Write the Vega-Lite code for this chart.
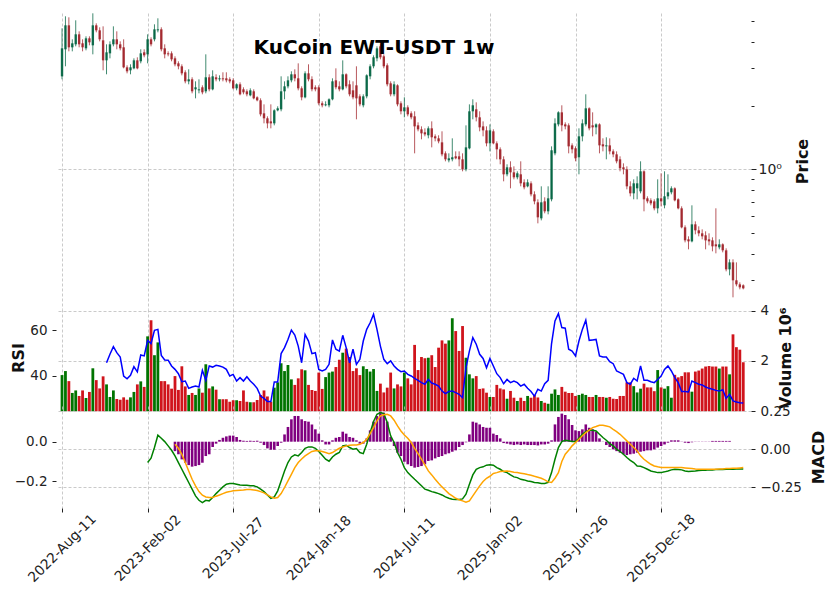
{
"$schema": "https://vega.github.io/schema/vega-lite/v6.json",
"background": "white",
"padding": {"left": 10, "top": 12, "right": 2, "bottom": 4},
"config": {
  "view": {"stroke": null},
  "font": "DejaVu Sans",
  "axis": {"domain": false, "labelFont": "DejaVu Sans", "labelFontSize": 13.5, "labelColor": "#222222", "tickColor": "#222222", "titleFont": "DejaVu Sans", "titleFontSize": 16, "titleFontWeight": "bold", "titleColor": "#111111", "gridColor": "#bdbdbd", "gridDash": [3, 2], "gridWidth": 0.8, "labelOverlap": false}
},
"data": {"values": [
{"i":0,"o":2.751,"h":4.638,"l":2.663,"c":3.731,"v":1440000},
{"i":1,"o":3.691,"h":5.286,"l":3.068,"c":4.792,"v":1600000},
{"i":2,"o":4.792,"h":5.228,"l":3.611,"c":3.772,"v":1200000},
{"i":3,"o":3.772,"h":4.115,"l":3.611,"c":3.94,"v":730000},
{"i":4,"o":3.897,"h":5.06,"l":3.813,"c":4.345,"v":830000},
{"i":5,"o":4.345,"h":4.489,"l":3.772,"c":3.897,"v":610000},
{"i":6,"o":3.94,"h":4.115,"l":3.611,"c":3.772,"v":830000},
{"i":7,"o":3.731,"h":4.252,"l":3.65,"c":4.16,"v":530000},
{"i":8,"o":4.16,"h":4.252,"l":3.855,"c":3.983,"v":770000},
{"i":9,"o":3.855,"h":5.461,"l":3.495,"c":4.792,"v":1710000},
{"i":10,"o":4.792,"h":4.897,"l":4.441,"c":4.538,"v":1240000},
{"i":11,"o":4.538,"h":4.689,"l":4.026,"c":4.115,"v":910000},
{"i":12,"o":4.07,"h":4.74,"l":2.937,"c":3.274,"v":1390000},
{"i":13,"o":3.274,"h":3.897,"l":2.812,"c":3.572,"v":1070000,"rsi":45.8},
{"i":14,"o":3.533,"h":4.026,"l":3.346,"c":3.897,"v":570000,"rsi":49.5},
{"i":15,"o":3.897,"h":4.74,"l":3.813,"c":4.115,"v":830000,"rsi":52.8},
{"i":16,"o":4.115,"h":4.489,"l":3.691,"c":3.897,"v":490000,"rsi":50.2},
{"i":17,"o":3.897,"h":4.026,"l":3.65,"c":3.731,"v":460000,"rsi":48.3},
{"i":18,"o":3.772,"h":4.115,"l":3.001,"c":3.034,"v":555000,"rsi":40.0},
{"i":19,"o":3.034,"h":3.101,"l":2.842,"c":2.905,"v":460000,"rsi":38.8},
{"i":20,"o":2.937,"h":3.135,"l":2.812,"c":3.034,"v":555000,"rsi":40.3},
{"i":21,"o":3.001,"h":3.346,"l":2.969,"c":3.274,"v":770000,"rsi":44.1},
{"i":22,"o":3.274,"h":3.383,"l":2.969,"c":3.001,"v":1070000,"rsi":41.8},
{"i":23,"o":3.239,"h":3.691,"l":3.169,"c":3.533,"v":1190000,"rsi":49.2},
{"i":24,"o":3.572,"h":3.691,"l":3.383,"c":3.457,"v":970000,"rsi":48.8},
{"i":25,"o":3.495,"h":4.345,"l":3.169,"c":4.115,"v":2980000,"rsi":55.6,"macd":-0.088},
{"i":26,"o":4.115,"h":4.206,"l":3.813,"c":3.897,"v":3620000,"rsi":54.2,"macd":-0.059},
{"i":27,"o":4.115,"h":4.845,"l":4.026,"c":4.588,"v":2230000,"rsi":60.0,"macd":0.011},
{"i":28,"o":4.538,"h":5.172,"l":4.441,"c":4.588,"v":2740000,"rsi":60.4,"macd":0.092},
{"i":29,"o":4.588,"h":4.689,"l":3.611,"c":3.691,"v":1200000,"rsi":49.0,"macd":0.072},
{"i":30,"o":3.731,"h":3.897,"l":3.346,"c":3.495,"v":1200000,"rsi":47.0,"macd":0.05},
{"i":31,"o":3.533,"h":3.611,"l":3.42,"c":3.495,"v":1070000,"rsi":46.9,"macd":0.022},
{"i":32,"o":3.533,"h":3.611,"l":3.239,"c":3.31,"v":900000,"rsi":44.4,"macd":-0.007},
{"i":33,"o":3.346,"h":3.42,"l":3.068,"c":3.135,"v":1400000,"rsi":42.9,"macd":-0.044,"sig":0.033,"hist":-0.048},
{"i":34,"o":3.169,"h":3.239,"l":2.969,"c":3.068,"v":850000,"rsi":41.0,"macd":-0.088,"sig":0.006,"hist":-0.064},
{"i":35,"o":3.068,"h":3.135,"l":2.781,"c":2.842,"v":1790000,"rsi":37.5,"macd":-0.132,"sig":-0.033,"hist":-0.09},
{"i":36,"o":2.874,"h":2.937,"l":2.549,"c":2.605,"v":990000,"rsi":37.8,"macd":-0.176,"sig":-0.088,"hist":-0.107},
{"i":37,"o":2.605,"h":2.969,"l":2.522,"c":2.663,"v":650000,"rsi":34.6,"macd":-0.219,"sig":-0.143,"hist":-0.119},
{"i":38,"o":2.663,"h":2.722,"l":2.286,"c":2.337,"v":730000,"rsi":35.2,"macd":-0.263,"sig":-0.198,"hist":-0.127},
{"i":39,"o":2.388,"h":2.605,"l":2.165,"c":2.441,"v":650000,"rsi":35.6,"macd":-0.307,"sig":-0.241,"hist":-0.124},
{"i":40,"o":2.362,"h":2.663,"l":2.286,"c":2.388,"v":910000,"rsi":35.2,"macd":-0.336,"sig":-0.279,"hist":-0.119},
{"i":41,"o":2.441,"h":2.494,"l":2.262,"c":2.311,"v":740000,"rsi":42.5,"macd":-0.351,"sig":-0.303,"hist":-0.107},
{"i":42,"o":2.337,"h":3.495,"l":2.286,"c":2.722,"v":1870000,"rsi":38.1,"macd":-0.336,"sig":-0.314,"hist":-0.073},
{"i":43,"o":2.722,"h":2.812,"l":2.337,"c":2.388,"v":910000,"rsi":44.4,"macd":-0.34,"sig":-0.318,"hist":-0.064},
{"i":44,"o":2.388,"h":2.937,"l":2.362,"c":2.751,"v":990000,"rsi":43.9,"macd":-0.318,"sig":-0.318,"hist":-0.027},
{"i":45,"o":2.722,"h":2.812,"l":2.605,"c":2.663,"v":860000,"rsi":44.7,"macd":-0.292,"sig":-0.309,"hist":-0.01},
{"i":46,"o":2.663,"h":2.781,"l":2.605,"c":2.692,"v":480000,"rsi":44.4,"macd":-0.27,"sig":-0.301,"hist":0.009},
{"i":47,"o":2.692,"h":2.874,"l":2.605,"c":2.663,"v":480000,"rsi":43.9,"macd":-0.248,"sig":-0.292,"hist":0.02},
{"i":48,"o":2.692,"h":2.874,"l":2.577,"c":2.634,"v":480000,"rsi":42.9,"macd":-0.23,"sig":-0.283,"hist":0.027},
{"i":49,"o":2.663,"h":2.722,"l":2.549,"c":2.605,"v":380000,"rsi":40.0,"macd":-0.226,"sig":-0.279,"hist":0.031},
{"i":50,"o":2.634,"h":2.692,"l":2.388,"c":2.414,"v":440000,"rsi":40.7,"macd":-0.226,"sig":-0.274,"hist":0.031},
{"i":51,"o":2.414,"h":2.549,"l":2.362,"c":2.522,"v":440000,"rsi":37.8,"macd":-0.23,"sig":-0.272,"hist":0.024},
{"i":52,"o":2.522,"h":2.577,"l":2.237,"c":2.262,"v":410000,"rsi":39.3,"macd":-0.235,"sig":-0.27,"hist":0.009},
{"i":53,"o":2.388,"h":2.441,"l":2.262,"c":2.311,"v":830000,"rsi":37.8,"macd":-0.237,"sig":-0.268,"hist":0.005},
{"i":54,"o":2.337,"h":2.388,"l":2.213,"c":2.262,"v":380000,"rsi":39.7,"macd":-0.237,"sig":-0.265,"hist":0.004},
{"i":55,"o":2.237,"h":2.414,"l":2.213,"c":2.362,"v":360000,"rsi":37.8,"macd":-0.241,"sig":-0.265,"hist":0.005},
{"i":56,"o":2.337,"h":2.388,"l":2.142,"c":2.165,"v":360000,"rsi":36.4,"macd":-0.241,"sig":-0.268,"hist":0.004},
{"i":57,"o":2.189,"h":2.213,"l":2.096,"c":2.119,"v":450000,"rsi":34.6,"macd":-0.248,"sig":-0.272,"hist":0.005},
{"i":58,"o":2.119,"h":2.165,"l":1.78,"c":1.819,"v":650000,"rsi":31.2,"macd":-0.263,"sig":-0.279,"hist":-0.005},
{"i":59,"o":1.839,"h":2.028,"l":1.649,"c":1.742,"v":830000,"rsi":30.2,"macd":-0.279,"sig":-0.287,"hist":-0.017},
{"i":60,"o":1.742,"h":1.78,"l":1.562,"c":1.649,"v":590000,"rsi":28.8,"macd":-0.301,"sig":-0.301,"hist":-0.034},
{"i":61,"o":1.685,"h":2.028,"l":1.562,"c":1.649,"v":380000,"rsi":28.8,"macd":-0.323,"sig":-0.314,"hist":-0.041},
{"i":62,"o":1.649,"h":1.921,"l":1.614,"c":1.9,"v":940000,"rsi":37.4,"macd":-0.314,"sig":-0.323,"hist":-0.041},
{"i":63,"o":1.9,"h":1.985,"l":1.88,"c":1.942,"v":1150000,"rsi":37.4,"macd":-0.274,"sig":-0.318,"hist":-0.022},
{"i":64,"o":1.921,"h":2.751,"l":1.88,"c":2.337,"v":1910000,"rsi":49.8,"macd":-0.209,"sig":-0.292,"hist":-0.005},
{"i":65,"o":2.337,"h":2.605,"l":2.142,"c":2.467,"v":1600000,"rsi":52.4,"macd":-0.143,"sig":-0.252,"hist":0.037},
{"i":66,"o":2.467,"h":2.751,"l":2.414,"c":2.634,"v":1840000,"rsi":56.0,"macd":-0.088,"sig":-0.209,"hist":0.075},
{"i":67,"o":2.634,"h":2.905,"l":2.577,"c":2.812,"v":1270000,"rsi":60.1,"macd":-0.051,"sig":-0.165,"hist":0.114},
{"i":68,"o":2.812,"h":2.969,"l":2.605,"c":2.692,"v":1050000,"rsi":57.9,"macd":-0.037,"sig":-0.121,"hist":0.131},
{"i":69,"o":2.692,"h":3.169,"l":2.362,"c":2.414,"v":1310000,"rsi":53.1,"macd":-0.044,"sig":-0.088,"hist":0.131},
{"i":70,"o":2.414,"h":2.467,"l":2.119,"c":2.189,"v":1670000,"rsi":45.8,"macd":-0.022,"sig":-0.064,"hist":0.114},
{"i":71,"o":2.189,"h":2.905,"l":2.165,"c":2.842,"v":1630000,"rsi":58.2,"macd":0.006,"sig":-0.044,"hist":0.105},
{"i":72,"o":2.842,"h":3.135,"l":2.605,"c":2.663,"v":1050000,"rsi":55.3,"macd":0.015,"sig":-0.029,"hist":0.102},
{"i":73,"o":2.663,"h":2.751,"l":2.337,"c":2.388,"v":850000,"rsi":49.8,"macd":0.015,"sig":-0.015,"hist":0.088},
{"i":74,"o":2.441,"h":2.494,"l":2.337,"c":2.388,"v":810000,"rsi":50.2,"macd":0.006,"sig":-0.011,"hist":0.063},
{"i":75,"o":2.441,"h":2.494,"l":2.007,"c":2.051,"v":1540000,"rsi":42.9,"macd":-0.015,"sig":-0.011,"hist":0.041},
{"i":76,"o":2.051,"h":2.096,"l":1.963,"c":2.007,"v":890000,"rsi":42.2,"macd":-0.04,"sig":-0.015,"hist":0.007},
{"i":77,"o":2.007,"h":2.096,"l":1.985,"c":2.028,"v":1360000,"rsi":42.9,"macd":-0.066,"sig":-0.022,"hist":-0.014},
{"i":78,"o":2.007,"h":2.165,"l":1.963,"c":2.142,"v":1540000,"rsi":45.1,"macd":-0.079,"sig":-0.029,"hist":-0.014},
{"i":79,"o":2.142,"h":2.692,"l":2.119,"c":2.605,"v":1580000,"rsi":55.8,"macd":-0.051,"sig":-0.022,"hist":0.007},
{"i":80,"o":2.634,"h":3.001,"l":2.388,"c":2.441,"v":1760000,"rsi":51.7,"macd":-0.033,"sig":-0.007,"hist":0.02},
{"i":81,"o":2.467,"h":2.605,"l":2.337,"c":2.388,"v":2050000,"rsi":50.9,"macd":-0.022,"sig":0.006,"hist":0.024},
{"i":82,"o":2.388,"h":3.274,"l":2.362,"c":2.812,"v":2330000,"rsi":57.8,"macd":0.022,"sig":0.015,"hist":0.051},
{"i":83,"o":2.812,"h":2.842,"l":2.414,"c":2.467,"v":2490000,"rsi":52.4,"macd":0.026,"sig":0.022,"hist":0.041},
{"i":84,"o":2.522,"h":2.634,"l":2.213,"c":2.262,"v":2160000,"rsi":45.8,"macd":0.011,"sig":0.026,"hist":0.024},
{"i":85,"o":2.362,"h":2.605,"l":2.142,"c":2.189,"v":1600000,"rsi":51.7,"macd":0.0,"sig":0.028,"hist":0.02},
{"i":86,"o":2.494,"h":3.068,"l":1.723,"c":2.165,"v":1710000,"rsi":45.1,"macd":0.004,"sig":0.028,"hist":0.007},
{"i":87,"o":2.213,"h":2.262,"l":1.985,"c":2.028,"v":1440000,"rsi":47.3,"macd":-0.022,"sig":0.033,"hist":-0.01},
{"i":88,"o":2.007,"h":2.262,"l":1.963,"c":2.213,"v":1790000,"rsi":55.3,"macd":-0.029,"sig":0.044,"hist":-0.01},
{"i":89,"o":2.213,"h":2.812,"l":2.165,"c":2.781,"v":1680000,"rsi":60.4,"macd":0.033,"sig":0.066,"hist":0.017},
{"i":90,"o":2.751,"h":3.135,"l":2.663,"c":3.068,"v":1580000,"rsi":63.3,"macd":0.109,"sig":0.103,"hist":0.058},
{"i":91,"o":3.068,"h":3.457,"l":3.001,"c":3.383,"v":1680000,"rsi":67.0,"macd":0.182,"sig":0.142,"hist":0.102},
{"i":92,"o":3.346,"h":3.813,"l":3.239,"c":3.731,"v":810000,"rsi":60.4,"macd":0.23,"sig":0.186,"hist":0.131},
{"i":93,"o":3.813,"h":3.897,"l":3.31,"c":3.383,"v":1100000,"rsi":53.1,"macd":0.241,"sig":0.219,"hist":0.153},
{"i":94,"o":3.42,"h":3.495,"l":3.001,"c":3.068,"v":750000,"rsi":47.3,"macd":0.234,"sig":0.226,"hist":0.148},
{"i":95,"o":3.101,"h":3.169,"l":2.467,"c":2.522,"v":940000,"rsi":45.4,"macd":0.175,"sig":0.23,"hist":0.102},
{"i":96,"o":2.549,"h":2.605,"l":2.213,"c":2.262,"v":1540000,"rsi":46.6,"macd":0.088,"sig":0.219,"hist":0.024},
{"i":97,"o":2.262,"h":2.605,"l":2.213,"c":2.522,"v":910000,"rsi":44.4,"macd":0.044,"sig":0.191,"hist":-0.022},
{"i":98,"o":2.494,"h":2.522,"l":1.985,"c":2.028,"v":1070000,"rsi":42.9,"macd":-0.022,"sig":0.153,"hist":-0.056},
{"i":99,"o":2.051,"h":2.096,"l":1.819,"c":1.88,"v":990000,"rsi":41.9,"macd":-0.066,"sig":0.12,"hist":-0.073},
{"i":100,"o":1.88,"h":2.189,"l":1.761,"c":1.963,"v":1540000,"rsi":42.2,"macd":-0.121,"sig":0.094,"hist":-0.102},
{"i":101,"o":1.963,"h":2.007,"l":1.78,"c":1.819,"v":1310000,"rsi":40.7,"macd":-0.154,"sig":0.072,"hist":-0.115},
{"i":102,"o":1.839,"h":1.88,"l":1.723,"c":1.761,"v":1070000,"rsi":40.0,"macd":-0.176,"sig":0.044,"hist":-0.124},
{"i":103,"o":1.78,"h":1.88,"l":1.19,"c":1.596,"v":2640000,"rsi":39.0,"macd":-0.198,"sig":0.006,"hist":-0.132},
{"i":104,"o":1.614,"h":1.667,"l":1.512,"c":1.545,"v":1640000,"rsi":38.1,"macd":-0.219,"sig":-0.029,"hist":-0.129},
{"i":105,"o":1.545,"h":1.596,"l":1.386,"c":1.479,"v":2160000,"rsi":37.1,"macd":-0.241,"sig":-0.066,"hist":-0.124},
{"i":106,"o":1.496,"h":1.562,"l":1.432,"c":1.463,"v":2110000,"rsi":36.4,"macd":-0.263,"sig":-0.103,"hist":-0.115},
{"i":107,"o":1.448,"h":1.596,"l":1.401,"c":1.562,"v":2130000,"rsi":38.5,"macd":-0.27,"sig":-0.143,"hist":-0.098},
{"i":108,"o":1.562,"h":1.685,"l":1.27,"c":1.417,"v":2230000,"rsi":36.9,"macd":-0.279,"sig":-0.169,"hist":-0.095},
{"i":109,"o":1.432,"h":1.463,"l":1.356,"c":1.401,"v":1760000,"rsi":36.4,"macd":-0.285,"sig":-0.198,"hist":-0.085},
{"i":110,"o":1.401,"h":1.448,"l":1.327,"c":1.356,"v":2530000,"rsi":35.6,"macd":-0.292,"sig":-0.224,"hist":-0.078},
{"i":111,"o":1.341,"h":1.512,"l":1.152,"c":1.177,"v":2820000,"rsi":33.4,"macd":-0.301,"sig":-0.248,"hist":-0.073},
{"i":112,"o":1.19,"h":1.216,"l":1.091,"c":1.115,"v":2690000,"rsi":32.3,"macd":-0.314,"sig":-0.27,"hist":-0.064},
{"i":113,"o":1.103,"h":1.19,"l":1.079,"c":1.127,"v":2820000,"rsi":33.2,"macd":-0.323,"sig":-0.292,"hist":-0.059},
{"i":114,"o":1.115,"h":1.401,"l":1.091,"c":1.14,"v":3700000,"rsi":33.4,"macd":-0.329,"sig":-0.307,"hist":-0.051},
{"i":115,"o":1.152,"h":1.216,"l":1.115,"c":1.127,"v":3190000,"rsi":32.7,"macd":-0.331,"sig":-0.323,"hist":-0.044},
{"i":116,"o":1.152,"h":1.216,"l":1.033,"c":1.115,"v":2400000,"rsi":32.0,"macd":-0.331,"sig":-0.333,"hist":-0.027},
{"i":117,"o":1.115,"h":1.19,"l":0.9784,"c":1.0,"v":3390000,"rsi":30.5,"macd":-0.327,"sig":-0.34,"hist":-0.017},
{"i":118,"o":1.0,"h":1.614,"l":0.9784,"c":1.27,"v":2130000,"rsi":43.6,"macd":-0.296,"sig":-0.349,"hist":-0.003},
{"i":119,"o":1.257,"h":2.028,"l":1.243,"c":1.88,"v":1470000,"rsi":50.9,"macd":-0.23,"sig":-0.34,"hist":0.037},
{"i":120,"o":1.88,"h":2.142,"l":1.723,"c":2.007,"v":1310000,"rsi":56.8,"macd":-0.169,"sig":-0.307,"hist":0.102},
{"i":121,"o":1.921,"h":2.073,"l":1.685,"c":1.761,"v":1400000,"rsi":53.9,"macd":-0.132,"sig":-0.274,"hist":0.097},
{"i":122,"o":1.761,"h":1.88,"l":1.512,"c":1.579,"v":890000,"rsi":49.5,"macd":-0.121,"sig":-0.241,"hist":0.088},
{"i":123,"o":1.596,"h":1.685,"l":1.432,"c":1.528,"v":910000,"rsi":47.7,"macd":-0.116,"sig":-0.213,"hist":0.075},
{"i":124,"o":1.528,"h":1.596,"l":1.284,"c":1.327,"v":740000,"rsi":43.6,"macd":-0.105,"sig":-0.191,"hist":0.071},
{"i":125,"o":1.327,"h":1.631,"l":1.216,"c":1.528,"v":570000,"rsi":47.7,"macd":-0.103,"sig":-0.178,"hist":0.071},
{"i":126,"o":1.512,"h":1.545,"l":1.313,"c":1.327,"v":570000,"rsi":44.4,"macd":-0.105,"sig":-0.16,"hist":0.041},
{"i":127,"o":1.327,"h":1.356,"l":1.115,"c":1.243,"v":1050000,"rsi":41.0,"macd":-0.121,"sig":-0.154,"hist":0.034},
{"i":128,"o":1.243,"h":1.27,"l":1.056,"c":1.115,"v":910000,"rsi":39.3,"macd":-0.132,"sig":-0.147,"hist":0.017},
{"i":129,"o":1.115,"h":1.152,"l":0.8775,"c":0.947,"v":870000,"rsi":36.6,"macd":-0.147,"sig":-0.145,"hist":-0.007},
{"i":130,"o":0.947,"h":1.056,"l":0.9267,"c":1.022,"v":500000,"rsi":38.5,"macd":-0.154,"sig":-0.143,"hist":-0.01},
{"i":131,"o":1.022,"h":1.091,"l":0.8132,"c":0.9678,"v":810000,"rsi":37.1,"macd":-0.169,"sig":-0.147,"hist":-0.014},
{"i":132,"o":0.9678,"h":1.033,"l":0.8969,"c":0.9166,"v":540000,"rsi":37.8,"macd":-0.182,"sig":-0.151,"hist":-0.017},
{"i":133,"o":0.9166,"h":0.9784,"l":0.8969,"c":0.9574,"v":410000,"rsi":37.1,"macd":-0.187,"sig":-0.154,"hist":-0.014},
{"i":134,"o":0.947,"h":1.091,"l":0.8311,"c":0.8586,"v":540000,"rsi":35.6,"macd":-0.198,"sig":-0.158,"hist":-0.017},
{"i":135,"o":0.868,"h":0.8969,"l":0.8044,"c":0.8221,"v":410000,"rsi":36.4,"macd":-0.202,"sig":-0.162,"hist":-0.014},
{"i":136,"o":0.8311,"h":0.8969,"l":0.8221,"c":0.868,"v":610000,"rsi":34.6,"macd":-0.209,"sig":-0.167,"hist":-0.017},
{"i":137,"o":0.8586,"h":0.8775,"l":0.7453,"c":0.7617,"v":540000,"rsi":33.2,"macd":-0.213,"sig":-0.171,"hist":-0.017},
{"i":138,"o":0.7617,"h":0.787,"l":0.6832,"c":0.7058,"v":650000,"rsi":31.2,"macd":-0.219,"sig":-0.178,"hist":-0.017},
{"i":139,"o":0.6982,"h":0.7214,"l":0.5555,"c":0.5931,"v":550000,"rsi":34.2,"macd":-0.221,"sig":-0.184,"hist":-0.019},
{"i":140,"o":0.5866,"h":0.8311,"l":0.5739,"c":0.6982,"v":410000,"rsi":33.4,"macd":-0.226,"sig":-0.191,"hist":-0.014},
{"i":141,"o":0.7058,"h":0.7373,"l":0.6194,"c":0.6331,"v":340000,"rsi":36.6,"macd":-0.226,"sig":-0.202,"hist":-0.014},
{"i":142,"o":0.6331,"h":0.8311,"l":0.6127,"c":0.7293,"v":300000,"rsi":38.1,"macd":-0.219,"sig":-0.215,"hist":-0.01},
{"i":143,"o":0.7214,"h":1.284,"l":0.7058,"c":1.23,"v":700000,"rsi":54.2,"macd":-0.154,"sig":-0.219,"hist":0.007},
{"i":144,"o":1.19,"h":1.742,"l":1.165,"c":1.649,"v":870000,"rsi":64.1,"macd":-0.066,"sig":-0.191,"hist":0.088},
{"i":145,"o":1.631,"h":1.88,"l":1.596,"c":1.859,"v":650000,"rsi":67.3,"macd":0.011,"sig":-0.154,"hist":0.126},
{"i":146,"o":1.859,"h":2.007,"l":1.512,"c":1.614,"v":970000,"rsi":61.2,"macd":0.05,"sig":-0.081,"hist":0.143},
{"i":147,"o":1.631,"h":1.667,"l":1.545,"c":1.596,"v":780000,"rsi":60.9,"macd":0.059,"sig":-0.033,"hist":0.136},
{"i":148,"o":1.614,"h":1.649,"l":1.19,"c":1.284,"v":730000,"rsi":51.7,"macd":0.055,"sig":-0.007,"hist":0.114},
{"i":149,"o":1.298,"h":1.327,"l":1.19,"c":1.243,"v":730000,"rsi":50.9,"macd":0.05,"sig":0.022,"hist":0.085},
{"i":150,"o":1.257,"h":1.284,"l":1.091,"c":1.127,"v":610000,"rsi":48.8,"macd":0.05,"sig":0.044,"hist":0.058},
{"i":151,"o":1.14,"h":1.562,"l":0.947,"c":1.432,"v":650000,"rsi":55.3,"macd":0.072,"sig":0.066,"hist":0.054},
{"i":152,"o":1.432,"h":1.723,"l":1.356,"c":1.649,"v":700000,"rsi":60.4,"macd":0.098,"sig":0.088,"hist":0.063},
{"i":153,"o":1.631,"h":2.262,"l":1.596,"c":1.942,"v":650000,"rsi":64.4,"macd":0.116,"sig":0.109,"hist":0.088},
{"i":154,"o":1.942,"h":1.963,"l":1.528,"c":1.562,"v":570000,"rsi":55.6,"macd":0.125,"sig":0.125,"hist":0.071},
{"i":155,"o":1.614,"h":1.859,"l":1.432,"c":1.579,"v":570000,"rsi":55.8,"macd":0.125,"sig":0.142,"hist":0.063},
{"i":156,"o":1.579,"h":1.649,"l":1.463,"c":1.631,"v":650000,"rsi":56.0,"macd":0.12,"sig":0.149,"hist":0.051},
{"i":157,"o":1.631,"h":1.649,"l":1.19,"c":1.298,"v":570000,"rsi":48.8,"macd":0.098,"sig":0.158,"hist":0.017},
{"i":158,"o":1.313,"h":1.401,"l":1.216,"c":1.284,"v":570000,"rsi":48.3,"macd":0.077,"sig":0.158,"hist":-0.001},
{"i":159,"o":1.284,"h":1.417,"l":1.115,"c":1.298,"v":540000,"rsi":48.3,"macd":0.059,"sig":0.153,"hist":-0.017},
{"i":160,"o":1.298,"h":1.401,"l":1.177,"c":1.216,"v":570000,"rsi":46.3,"macd":0.037,"sig":0.147,"hist":-0.027},
{"i":161,"o":1.216,"h":1.243,"l":1.14,"c":1.177,"v":500000,"rsi":45.4,"macd":0.022,"sig":0.131,"hist":-0.039},
{"i":162,"o":1.177,"h":1.216,"l":1.067,"c":1.091,"v":490000,"rsi":42.2,"macd":0.0,"sig":0.116,"hist":-0.048},
{"i":163,"o":1.115,"h":1.152,"l":0.9784,"c":1.011,"v":610000,"rsi":41.5,"macd":-0.015,"sig":0.098,"hist":-0.056},
{"i":164,"o":1.022,"h":1.067,"l":0.947,"c":1.0,"v":610000,"rsi":40.7,"macd":-0.033,"sig":0.077,"hist":-0.064},
{"i":165,"o":1.0,"h":1.033,"l":0.8044,"c":0.8311,"v":1150000,"rsi":37.1,"macd":-0.055,"sig":0.055,"hist":-0.068},
{"i":166,"o":0.8311,"h":0.8775,"l":0.7453,"c":0.77,"v":1150000,"rsi":36.4,"macd":-0.073,"sig":0.033,"hist":-0.064},
{"i":167,"o":0.77,"h":0.8969,"l":0.7214,"c":0.8586,"v":1000000,"rsi":39.0,"macd":-0.088,"sig":0.011,"hist":-0.061},
{"i":168,"o":0.8132,"h":0.9267,"l":0.7214,"c":0.8586,"v":750000,"rsi":37.8,"macd":-0.11,"sig":-0.011,"hist":-0.056},
{"i":169,"o":0.787,"h":1.091,"l":0.77,"c":0.9784,"v":900000,"rsi":44.4,"macd":-0.112,"sig":-0.044,"hist":-0.051},
{"i":170,"o":0.9784,"h":0.9891,"l":0.6331,"c":0.7214,"v":1100000,"rsi":38.1,"macd":-0.121,"sig":-0.066,"hist":-0.048},
{"i":171,"o":0.7293,"h":0.7453,"l":0.6906,"c":0.7058,"v":950000,"rsi":38.1,"macd":-0.132,"sig":-0.083,"hist":-0.044},
{"i":172,"o":0.7135,"h":0.7293,"l":0.6758,"c":0.6906,"v":950000,"rsi":37.5,"macd":-0.143,"sig":-0.099,"hist":-0.044},
{"i":173,"o":0.7058,"h":0.7214,"l":0.64,"c":0.6541,"v":800000,"rsi":37.1,"macd":-0.149,"sig":-0.11,"hist":-0.039},
{"i":174,"o":0.6541,"h":0.8969,"l":0.6194,"c":0.7293,"v":1640000,"rsi":38.5,"macd":-0.154,"sig":-0.116,"hist":-0.03},
{"i":175,"o":0.7293,"h":0.9574,"l":0.6685,"c":0.7058,"v":950000,"rsi":40.0,"macd":-0.154,"sig":-0.121,"hist":-0.022},
{"i":176,"o":0.6758,"h":0.9784,"l":0.6541,"c":0.7453,"v":900000,"rsi":42.9,"macd":-0.149,"sig":-0.121,"hist":-0.014},
{"i":177,"o":0.7453,"h":0.947,"l":0.7214,"c":0.7785,"v":1000000,"rsi":44.4,"macd":-0.143,"sig":-0.121,"hist":-0.005},
{"i":178,"o":0.7785,"h":0.8311,"l":0.7617,"c":0.8132,"v":540000,"rsi":42.2,"macd":-0.136,"sig":-0.121,"hist":0.007},
{"i":179,"o":0.8132,"h":0.8221,"l":0.7058,"c":0.7135,"v":1450000,"rsi":39.3,"macd":-0.132,"sig":-0.121,"hist":0.007},
{"i":180,"o":0.7214,"h":0.7293,"l":0.647,"c":0.6541,"v":1350000,"rsi":37.1,"macd":-0.134,"sig":-0.121,"hist":0.007},
{"i":181,"o":0.6541,"h":0.6685,"l":0.5261,"c":0.5319,"v":1400000,"rsi":33.2,"macd":-0.136,"sig":-0.121,"hist":-0.001},
{"i":182,"o":0.5319,"h":0.5436,"l":0.4517,"c":0.4616,"v":1550000,"rsi":33.2,"macd":-0.143,"sig":-0.123,"hist":-0.005},
{"i":183,"o":0.4668,"h":0.4823,"l":0.4186,"c":0.4567,"v":1550000,"rsi":33.0,"macd":-0.147,"sig":-0.125,"hist":-0.007},
{"i":184,"o":0.4567,"h":0.6758,"l":0.4517,"c":0.5495,"v":780000,"rsi":37.8,"macd":-0.145,"sig":-0.127,"hist":-0.003},
{"i":185,"o":0.5495,"h":0.5677,"l":0.4929,"c":0.5148,"v":1580000,"rsi":37.1,"macd":-0.143,"sig":-0.13,"hist":0.001},
{"i":186,"o":0.5148,"h":0.5377,"l":0.4823,"c":0.4983,"v":1620000,"rsi":36.4,"macd":-0.14,"sig":-0.132,"hist":0.001},
{"i":187,"o":0.4983,"h":0.5204,"l":0.4668,"c":0.4823,"v":1700000,"rsi":36.1,"macd":-0.138,"sig":-0.132,"hist":0.001},
{"i":188,"o":0.4876,"h":0.5093,"l":0.4186,"c":0.4616,"v":1780000,"rsi":35.2,"macd":-0.138,"sig":-0.132,"hist":0.001},
{"i":189,"o":0.4668,"h":0.4983,"l":0.4372,"c":0.4567,"v":1800000,"rsi":34.6,"macd":-0.136,"sig":-0.132,"hist":0.001},
{"i":190,"o":0.4616,"h":0.4771,"l":0.4096,"c":0.4325,"v":1780000,"rsi":34.2,"macd":-0.136,"sig":-0.132,"hist":0.004},
{"i":191,"o":0.442,"h":0.6541,"l":0.4008,"c":0.4325,"v":1780000,"rsi":33.7,"macd":-0.134,"sig":-0.132,"hist":0.004},
{"i":192,"o":0.4278,"h":0.4668,"l":0.4186,"c":0.442,"v":1700000,"rsi":33.4,"macd":-0.134,"sig":-0.13,"hist":0.004},
{"i":193,"o":0.442,"h":0.4468,"l":0.4052,"c":0.4141,"v":1780000,"rsi":34.0,"macd":-0.134,"sig":-0.13,"hist":0.004},
{"i":194,"o":0.4141,"h":0.4232,"l":0.3295,"c":0.3367,"v":1780000,"rsi":30.2,"macd":-0.132,"sig":-0.127,"hist":0.004},
{"i":195,"o":0.3367,"h":0.3755,"l":0.3154,"c":0.3633,"v":1470000,"rsi":32.0,"macd":-0.132,"sig":-0.127,"hist":0.004},
{"i":196,"o":0.3633,"h":0.3755,"l":0.2483,"c":0.2988,"v":3060000,"rsi":29.1,"macd":-0.132,"sig":-0.125},
{"i":197,"o":0.2988,"h":0.3633,"l":0.2799,"c":0.286,"v":2550000,"rsi":28.6,"macd":-0.13,"sig":-0.125},
{"i":198,"o":0.286,"h":0.2923,"l":0.2709,"c":0.2768,"v":2450000,"rsi":28.3,"macd":-0.13,"sig":-0.123},
{"i":199,"o":0.2829,"h":0.286,"l":0.2709,"c":0.2739,"v":1950000,"rsi":28.2,"macd":-0.13,"sig":-0.121}
]},
"spacing": 0,
"bounds": "flush",
"vconcat": [
  {
    "width": 695, "height": 296,
    "title": {"text": "KuCoin EWT-USDT 1w", "fontSize": 20, "fontWeight": "bold", "font": "DejaVu Sans", "color": "#000000", "anchor": "middle", "dx": -29.5, "offset": -61, "baseline": "alphabetic"},
    "encoding": {"x": {"field": "i", "type": "quantitative", "scale": {"domain": [-0.3, 199.8], "nice": false, "zero": false}, "axis": {"values": [0,25,50,75,100,125,150,175], "labels": false, "ticks": false, "grid": true, "title": null}}},
    "layer": [
      {"mark": {"type": "rule", "strokeWidth": 1, "opacity": 0.75},
       "encoding": {
         "y": {"field": "l", "type": "quantitative", "scale": {"type": "log", "domain": [0.2187, 5.48], "nice": false, "zero": false},
               "axis": {"orient": "right", "values": [0.3,0.4,0.5,0.6,0.7,0.8,0.9,1,2,3,4,5], "labelExpr": "datum.value == 1 ? '10⁰' : ''", "labelFontSize": 14, "labelPadding": 2, "grid": true, "gridOpacity": {"condition": {"test": "datum.value == 1", "value": 1}, "value": 0}, "tickSize": {"condition": {"test": "datum.value == 1", "value": 5}, "value": 3}, "title": "Price", "titleAngle": 270, "titleX": 51, "titleY": 148, "titleAlign": "center", "titleBaseline": "middle"}},
         "y2": {"field": "h"},
         "color": {"condition": {"test": "datum.c >= datum.o", "value": "#006340"}, "value": "#a02128"}}},
      {"mark": {"type": "bar", "size": 2.4, "opacity": 0.9},
       "encoding": {
         "y": {"field": "o", "type": "quantitative"},
         "y2": {"field": "c"},
         "color": {"condition": {"test": "datum.c >= datum.o", "value": "#006340"}, "value": "#a02128"}}}
    ]
  },
  {
    "width": 695, "height": 97,
    "encoding": {"x": {"field": "i", "type": "quantitative", "scale": {"domain": [-0.3, 199.8], "nice": false, "zero": false}, "axis": {"values": [0,25,50,75,100,125,150,175], "labels": false, "ticks": false, "grid": true, "title": null}}},
    "layer": [
      {"mark": {"type": "bar", "size": 2.8},
       "encoding": {
         "y": {"field": "v", "type": "quantitative", "scale": {"domain": [210700, 4067600], "nice": false, "zero": false},
               "axis": {"orient": "right", "values": [2000000, 4000000], "labelExpr": "format(datum.value / 1000000, 'd')", "tickSize": 4, "labelPadding": 5, "grid": true, "title": "Volume  10⁶", "titleAngle": 270, "titleX": 34, "titleY": 48.5, "titleAlign": "center", "titleBaseline": "middle"}},
         "color": {"condition": {"test": "datum.c >= datum.o", "value": "#007400"}, "value": "#d0141c"}}},
      {"mark": {"type": "line", "color": "#0000ff", "strokeWidth": 1.5},
       "encoding": {
         "y": {"field": "rsi", "type": "quantitative", "scale": {"domain": [26.87, 69.32], "nice": false, "zero": false},
               "axis": {"orient": "left", "values": [40, 60], "tickSize": 4, "labelPadding": 5, "grid": false, "title": "RSI", "titleAngle": 270, "titleX": -37.8, "titleY": 48.5, "titleAlign": "center", "titleBaseline": "middle"}}}}
    ],
    "resolve": {"scale": {"y": "independent"}}
  },
  {
    "width": 695, "height": 102,
    "encoding": {"x": {"field": "i", "type": "quantitative", "scale": {"domain": [-0.3, 199.8], "nice": false, "zero": false},
      "axis": {"values": [0,25,50,75,100,125,150,175], "labelExpr": "['2022-Aug-11','2023-Feb-02','2023-Jul-27','2024-Jan-18','2024-Jul-11','2025-Jan-02','2025-Jun-26','2025-Dec-18'][round(datum.value / 25)]", "labelAngle": -45, "labelAlign": "center", "labelBaseline": "middle", "labelPadding": 36, "labelFontSize": 13.8, "tickSize": 4, "grid": true, "title": null}}},
    "layer": [
      {"mark": {"type": "bar", "size": 2.6, "color": "#800080"},
       "encoding": {
         "y": {"field": "hist", "type": "quantitative", "scale": {"domain": [-0.3374, 0.1817], "nice": false, "zero": false},
               "axis": {"orient": "left", "values": [-0.2, 0], "format": ".1f", "tickSize": 4, "labelPadding": 5, "grid": false, "title": null}},
         "y2": {"datum": 0}}},
      {"layer": [
        {"mark": {"type": "line", "color": "#008000", "strokeWidth": 1.5},
         "encoding": {"y": {"field": "macd", "type": "quantitative", "scale": {"domain": [-0.3868, 0.2842], "nice": false, "zero": false},
               "axis": {"orient": "right", "values": [-0.25, 0, 0.25], "format": ".2f", "tickSize": 4, "labelPadding": 5, "grid": true, "title": "MACD", "titleAngle": 270, "titleX": 67.5, "titleY": 51, "titleAlign": "center", "titleBaseline": "middle"}}}},
        {"mark": {"type": "line", "color": "#ffa500", "strokeWidth": 1.5},
         "encoding": {"y": {"field": "sig", "type": "quantitative",
               "axis": {"orient": "right", "values": [-0.25, 0, 0.25], "format": ".2f", "tickSize": 4, "labelPadding": 5, "grid": true, "title": "MACD", "titleAngle": 270, "titleX": 67.5, "titleY": 51, "titleAlign": "center", "titleBaseline": "middle"}}}}
      ]}
    ],
    "resolve": {"scale": {"y": "independent"}}
  }
]
}
